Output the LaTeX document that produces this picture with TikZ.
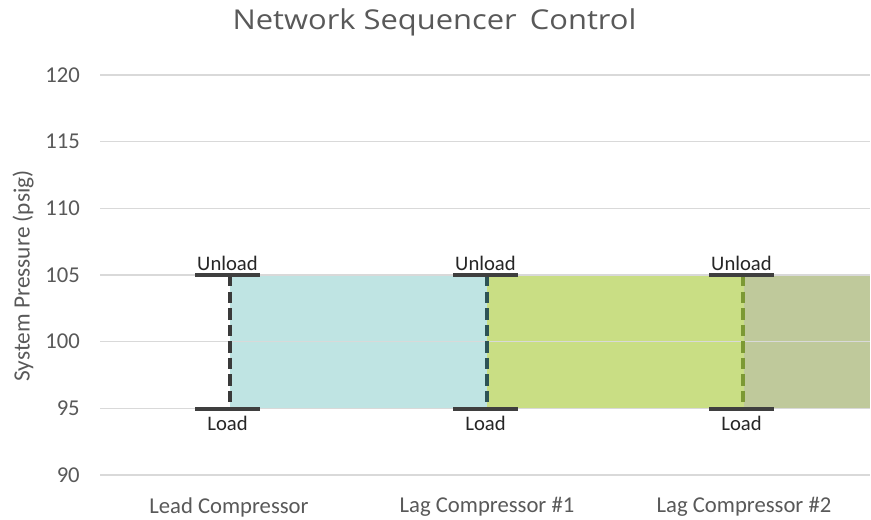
\documentclass[tikz,border=0pt]{standalone}
\usepackage{fontspec}
\setmainfont{Carlito}
\newfontfamily\titlefont{Open Sans}
\definecolor{gridgray}{HTML}{D9D9D9}
\definecolor{axtext}{HTML}{595959}
\definecolor{leadfill}{HTML}{BFE4E3}
\definecolor{lagonefill}{HTML}{C9DE84}
\definecolor{lagtwofill}{HTML}{BFC99B}
\definecolor{capcol}{HTML}{3F3F3F}
\definecolor{leadline}{HTML}{3A3A3A}
\definecolor{lagoneline}{HTML}{2E5356}
\definecolor{lagtwoline}{HTML}{7C9934}
\tikzset{
  gridline/.style={draw=gridgray, line width=0.9pt},
  ticklabel/.style={anchor=east, text=axtext, font=\fontsize{17}{20}\selectfont, inner sep=0pt},
  catlabel/.style={text=axtext, font=\fontsize{17}{20}\selectfont, inner sep=0pt},
  barcap/.style={draw=capcol, line width=2.3pt},
  setline/.style={line width=2.7pt, dash pattern=on 8.6pt off 3.8pt},
  statelabel/.style={text=black!85, font=\fontsize{15.5}{18}\selectfont, inner sep=0pt}
}
\begin{document}
\begin{tikzpicture}[x=0.75pt,y=-0.75pt]
\useasboundingbox (0,0) rectangle (871,520);
\fill[white] (0,0) rectangle (871,520);

% pressure bands between load and unload set points
\fill[leadfill]   (230,275) rectangle (487,409);
\fill[lagonefill] (487,275) rectangle (744,409);
\fill[lagtwofill] (744,275) rectangle (870,409);

% horizontal grid lines and pressure ticks
\foreach \p/\y in {120/75,115/141.67,110/208.33,105/275,100/341.67,95/408.33,90/475}{
  \draw[gridline] (100,\y) -- (870,\y);
  \node[ticklabel] (tick\p) at (80,\y) {\p};
}

% title and axis title
\node[text=axtext, font=\titlefont\fontsize{20.5}{24}\selectfont, inner sep=0pt, xscale=1.13] (title) at (434.5,22) {Network Sequencer\, Control};
\node[text=axtext, rotate=90, font=\fontsize{17.5}{20}\selectfont, inner sep=0pt] (ytitle) at (23,276) {System Pressure (psig)};

% category labels
\node[catlabel] (lead) at (229,507) {Lead Compressor};
\node[catlabel] (lagone) at (487,507) {Lag Compressor \#1};
\node[catlabel] (lagtwo) at (744,507) {Lag Compressor \#2};

% load / unload set points for each compressor
\foreach \n/\xc/\xl/\col in {a/227.5/230/leadline, b/485.5/487/lagoneline, c/741.5/743/lagtwoline}{
  \coordinate (\n top) at (\xl,275);
  \coordinate (\n bot) at (\xl,409);
  \draw[setline, draw=\col] (\n top) -- (\n bot);
  \draw[barcap] (\xc-32.5,275) -- (\xc+32.5,275);
  \draw[barcap] (\xc-32.5,409) -- (\xc+32.5,409);
  \node[statelabel] (\n unload) at (\xc,263) {Unload};
  \node[statelabel] (\n load) at (\xc,423) {Load};
}
\end{tikzpicture}
\end{document}
